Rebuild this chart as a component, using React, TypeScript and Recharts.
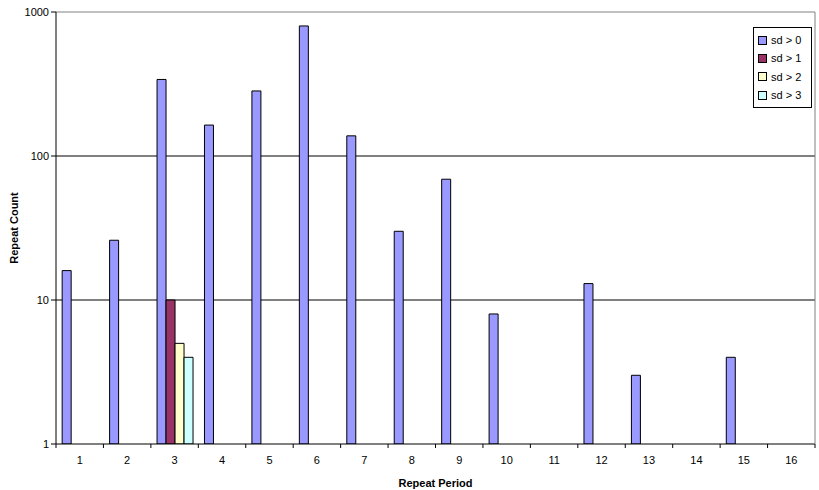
import { BarChart, Bar, XAxis, YAxis, CartesianGrid, Legend, ReferenceLine } from 'recharts';

const periods = ['1', '2', '3', '4', '5', '6', '7', '8', '9', '10', '11', '12', '13', '14', '15', '16'];
const sd0 = [16, 26, 340, 164, 283, 800, 138, 30, 69, 8, null, 13, 3, null, 4, null];
const sd1 = [null, null, 10, null, null, null, null, null, null, null, null, null, null, null, null, null];
const sd2 = [null, null, 5, null, null, null, null, null, null, null, null, null, null, null, null, null];
const sd3 = [null, null, 4, null, null, null, null, null, null, null, null, null, null, null, null, null];
const yTicks = [1, 10, 100, 1000];

const SERIES = [
  { key: 'sd0', name: 'sd > 0', color: '#9999FF' },
  { key: 'sd1', name: 'sd > 1', color: '#993366' },
  { key: 'sd2', name: 'sd > 2', color: '#FFFFCC' },
  { key: 'sd3', name: 'sd > 3', color: '#CCFFFF' },
];

const data = periods.map((p, i) => ({
  period: p,
  sd0: sd0[i],
  sd1: sd1[i],
  sd2: sd2[i],
  sd3: sd3[i],
}));

const FONT = 'Liberation Sans, Arial, sans-serif';

// excel style: tick marks sit between categories, label in the middle
function PeriodTick(props: any) {
  const { x, y, payload, index, visibleTicksCount } = props;
  const half = payload?.offset ?? 0;
  const last = index === visibleTicksCount - 1;
  return (
    <g>
      <line x1={x - half} x2={x - half} y1={y - 8} y2={y - 4} stroke="#000" />
      {last && <line x1={x + half} x2={x + half} y1={y - 8} y2={y - 4} stroke="#000" />}
      <text x={x} y={y + 12} textAnchor="middle" fontSize={11} fontFamily={FONT} fill="#000">
        {payload.value}
      </text>
    </g>
  );
}

function LegendBox() {
  return (
    <div
      style={{
        border: '1px solid #000',
        background: '#fff',
        padding: '3px 4px',
        fontFamily: FONT,
        fontSize: 11,
        width: 49,
      }}
    >
      {SERIES.map((s) => (
        <div key={s.key} style={{ display: 'flex', alignItems: 'center', height: 18.3 }}>
          <span
            style={{
              display: 'inline-block',
              width: 7,
              height: 7,
              border: '1px solid #000',
              background: s.color,
              marginRight: 4,
            }}
          />
          <span>{s.name}</span>
        </div>
      ))}
    </div>
  );
}

export default function App() {
  return (
    <div style={{ position: 'absolute', left: 0, top: 0, width: 819, height: 490, background: '#fff' }}>
      <BarChart
        width={819}
        height={490}
        data={data}
        margin={{ top: 12, right: 0, bottom: 0, left: 0 }}
        barCategoryGap="13%"
        barGap={0}
      >
        <CartesianGrid horizontal vertical={false} stroke="#000" strokeOpacity={1} horizontalValues={[10, 100]} />
        <ReferenceLine y={1000} stroke="#808080" />
        <XAxis
          dataKey="period"
          height={46}
          tickLine={false}
          stroke="#000"
          tick={<PeriodTick />}
          interval={0}
          label={{ value: 'Repeat Period', position: 'insideBottom', offset: 3, fontSize: 11, fontWeight: 'bold', fontFamily: FONT, fill: '#000' }}
        />
        <YAxis
          scale="log"
          domain={[1, 1000]}
          ticks={yTicks}
          allowDataOverflow
          width={56}
          stroke="#000"
          tickSize={5}
          tick={{ fontSize: 11, fontFamily: FONT, fill: '#000' }}
          label={{ value: 'Repeat Count', angle: -90, position: 'insideLeft', offset: 14, fontSize: 11, fontWeight: 'bold', fontFamily: FONT, fill: '#000', style: { textAnchor: 'middle' } }}
        />
        {/* plot area right border */}
        <YAxis yAxisId="border" orientation="right" width={4} stroke="#808080" tick={false} tickLine={false} />
        <Legend
          layout="horizontal"
          align="center"
          verticalAlign="middle"
          content={<LegendBox />}
          wrapperStyle={{ top: 27, left: 753, right: 'auto', width: 60 }}
        />
        {SERIES.map((s) => (
          <Bar key={s.key} dataKey={s.key} name={s.name} fill={s.color} stroke="#000" strokeWidth={1} isAnimationActive={false} />
        ))}
      </BarChart>
    </div>
  );
}
